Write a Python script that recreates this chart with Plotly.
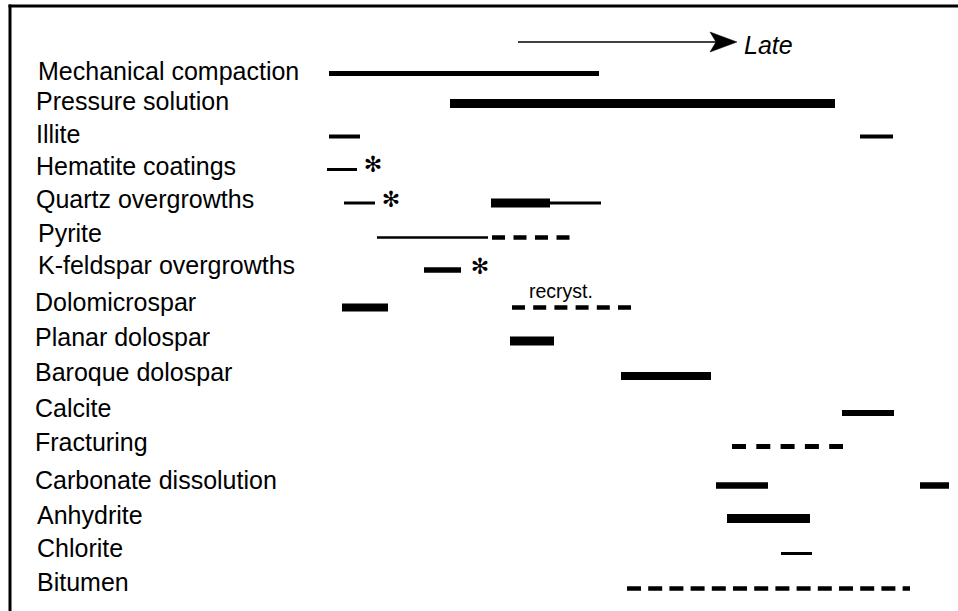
import plotly.graph_objects as go

# ---- Paragenetic sequence: processes and their relative timing ----
processes = [
    "Mechanical compaction", "Pressure solution", "Illite", "Hematite coatings",
    "Quartz overgrowths", "Pyrite", "K-feldspar overgrowths", "Dolomicrospar",
    "Planar dolospar", "Baroque dolospar", "Calcite", "Fracturing",
    "Carbonate dissolution", "Anhydrite", "Chlorite", "Bitumen",
]

# Timing intervals (relative time units, early -> late), one entry per segment
seg_process = [0, 1, 2, 2, 3, 4, 4, 4, 5, 5, 6, 7, 7, 8, 9, 10, 11, 12, 12, 13, 14, 15]
seg_start = [329, 450, 329, 860, 327, 344, 491, 550, 377, 492, 424, 342, 512, 510,
             621, 842, 732, 716, 920, 727, 781, 627]
seg_end = [599, 835, 360, 893, 357, 375, 550, 601, 488, 570, 461, 388, 632, 554,
           711, 894, 843, 768, 949, 810, 812, 910]
# Certainty of each interval: "certain" or "uncertain" (dashed)
seg_kind = ["certain"] * 9 + ["uncertain"] + ["certain"] * 2 + ["uncertain"] + \
           ["certain"] * 3 + ["uncertain"] + ["certain"] * 4 + ["uncertain"]
# Relative abundance shown by line weight
seg_weight = [5, 9, 4, 4, 3, 3, 9, 3, 2.5, 4.5, 5.5, 8, 4.5, 9, 8, 6, 5, 6.5, 6.5, 9, 3, 4.5]

# Phases marked with an asterisk (process index, time)
star_process = [3, 4, 6]
star_time = [373, 391, 480]

# ---- Layout helpers (positions / styles) ----
W, H = 958, 611
row_y = [73.5, 103.5, 136.5, 169.5, 203, 237.5, 270, 307.5, 341, 376, 413,
         446.5, 485.5, 518.5, 553.5, 588.5]
label_x = [36, 34, 34, 34, 34, 36, 36, 33, 33, 33, 33, 33, 33, 35, 35, 35]
label_y = [71, 101, 134, 166, 199, 233, 265, 302, 337, 372, 408, 442, 480, 515, 548, 582]
star_y = [166, 201, 268]
# dash pattern (dash, gap) for each uncertain interval
dash_patterns = {9: "13px,8.5px", 12: "13px,8.2px", 16: "14px,10.3px", 21: "14px,7.2px"}

FONT = "Liberation Sans, Arial, Helvetica, sans-serif"

fig = go.Figure()

for i, p in enumerate(seg_process):
    dash = dash_patterns.get(i, "13px,8px") if seg_kind[i] == "uncertain" else "solid"
    fig.add_trace(go.Scatter(
        x=[seg_start[i], seg_end[i]],
        y=[row_y[p], row_y[p]],
        mode="lines",
        line=dict(color="black", width=seg_weight[i], dash=dash),
        hoverinfo="skip",
        showlegend=False,
    ))

fig.add_trace(go.Scatter(
    x=star_time, y=star_y, mode="text", text=["✻"] * len(star_time),
    textfont=dict(family="DejaVu Sans", size=22, color="black"),
    hoverinfo="skip", showlegend=False,
))

annotations = []
for name, lx, ly in zip(processes, label_x, label_y):
    annotations.append(dict(
        x=lx, y=ly, xref="x", yref="y", text=name, showarrow=False,
        xanchor="left", yanchor="middle",
        font=dict(family=FONT, size=25, color="black"),
    ))

annotations.append(dict(
    x=561, y=291, xref="x", yref="y", text="recryst.", showarrow=False,
    xanchor="center", yanchor="middle",
    font=dict(family=FONT, size=19.5, color="black"),
))
annotations.append(dict(
    x=742, y=45, xref="x", yref="y", text="<i>Late</i>", showarrow=False,
    xanchor="left", yanchor="middle",
    font=dict(family=FONT, size=25, color="black"),
))

# Time arrow
ax0, ax1, ay = 518, 737, 42
head_len, head_half, notch = 27, 10, 6
shapes = [
    dict(type="line", xref="x", yref="y", x0=ax0, x1=ax1 - head_len + notch,
         y0=ay, y1=ay, line=dict(color="black", width=1.5)),
    dict(type="path", xref="x", yref="y",
         path=(f"M {ax1},{ay} L {ax1 - head_len},{ay - head_half} "
               f"L {ax1 - head_len + notch},{ay} L {ax1 - head_len},{ay + head_half} Z"),
         fillcolor="black", line=dict(color="black", width=0.5)),
    # frame
    dict(type="line", xref="x", yref="y", x0=8.5, x1=W, y0=6, y1=6,
         line=dict(color="black", width=3)),
    dict(type="line", xref="x", yref="y", x0=10, x1=10, y0=4.5, y1=H,
         line=dict(color="black", width=3)),
]

fig.update_layout(
    width=W, height=H,
    margin=dict(l=0, r=0, t=0, b=0),
    paper_bgcolor="white", plot_bgcolor="white",
    xaxis=dict(range=[0, W], visible=False, fixedrange=True),
    yaxis=dict(range=[H, 0], visible=False, fixedrange=True),
    annotations=annotations,
    shapes=shapes,
)

fig.write_html("out.html")
